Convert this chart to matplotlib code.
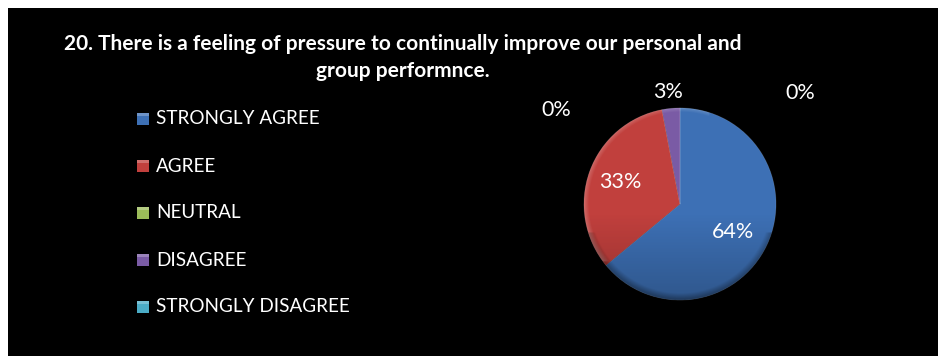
import numpy as np
import matplotlib
matplotlib.use("Agg")
import matplotlib.pyplot as plt
from matplotlib.patches import Circle, Rectangle

W, H = 938, 356

categories = ["STRONGLY AGREE", "AGREE", "NEUTRAL", "DISAGREE", "STRONGLY DISAGREE"]
shares = [64, 33, 0, 3, 0]
colors = ["#3D70B5", "#C1403D", "#9BBB59", "#7A5BA5", "#4BACC6"]
title_lines = ["20. There is a feeling of pressure to continually improve our personal and",
               "group performnce."]

FONT = "Lato"

fig = plt.figure(figsize=(W / 100, H / 100), dpi=100, facecolor="white")

# black panel
bg = fig.add_axes([0, 0, 1, 1])
bg.set_xlim(0, W)
bg.set_ylim(H, 0)
bg.axis("off")
bg.add_patch(Rectangle((8, 8), W - 8, H - 8, facecolor="black", edgecolor="none"))

# title
bg.text(403, 44, title_lines[0], color="white", fontsize=15.0, fontweight="bold",
        family=FONT, ha="center", va="center")
bg.text(403, 71, title_lines[1], color="white", fontsize=15.0, fontweight="bold",
        family=FONT, ha="center", va="center")

# legend
for i, (name, col) in enumerate(zip(categories, colors)):
    y = 119 + i * 47
    bg.add_patch(Rectangle((137, y - 6), 12, 12, facecolor=col, edgecolor="none"))
    bg.add_patch(Rectangle((137, y - 6), 12, 3, facecolor="white", alpha=0.25,
                           edgecolor="none"))
    bg.text(156, y, name, color="white", fontsize=13.6, family=FONT,
            ha="left", va="center")

# pie
cx, cy, R = 680, 204, 98
ax = fig.add_axes([(cx - R) / W, (H - cy - R) / H, 2 * R / W, 2 * R / H])
ax.set_facecolor("none")
wedges, _ = ax.pie(shares, colors=colors, startangle=90, counterclock=False,
                   radius=1.0, wedgeprops=dict(linewidth=0.6, edgecolor=(1, 1, 1, 0.12)))
ax.set_xlim(-1.02, 1.02)
ax.set_ylim(-1.02, 1.02)
ax.set_aspect("equal")
ax.axis("off")

# bevel shading: darker toward the bottom, lighter rim up top
n = 300
yy, xx = np.mgrid[-1:1:n * 1j, -1:1:n * 1j]
rr = np.sqrt(xx ** 2 + yy ** 2)
shade = np.zeros((n, n, 4))
shade[..., 3] = (np.clip((-yy - 0.1) * 0.25, 0, 0.25)
                 + np.clip((rr - 0.93) * 4.0, 0, 0.25) * (yy < -0.3))
img = ax.imshow(shade, extent=(-1, 1, -1, 1), origin="lower", zorder=5)
img.set_clip_path(Circle((0, 0), 1.0, transform=ax.transData))
light = np.zeros((n, n, 4))
light[..., :3] = 1.0
light[..., 3] = np.clip((rr - 0.95) * 4.0, 0, 0.18) * (xx < 0.3) * (yy > -0.6)
img2 = ax.imshow(light, extent=(-1, 1, -1, 1), origin="lower", zorder=5)
img2.set_clip_path(Circle((0, 0), 1.0, transform=ax.transData))

# percentage labels on top of everything
top = fig.add_axes([0, 0, 1, 1])
top.set_xlim(0, W)
top.set_ylim(H, 0)
top.axis("off")
top.set_facecolor("none")
total = sum(shares)
pos_px = [(733, 232), (620, 182), (556, 110), (668, 92), (800, 93)]
for v, (px, py) in zip(shares, pos_px):
    top.text(px, py, f"{round(100 * v / total)}%", color="white", fontsize=15.5,
             family=FONT, ha="center", va="center")

fig.savefig("out.png", dpi=100, facecolor="white")
